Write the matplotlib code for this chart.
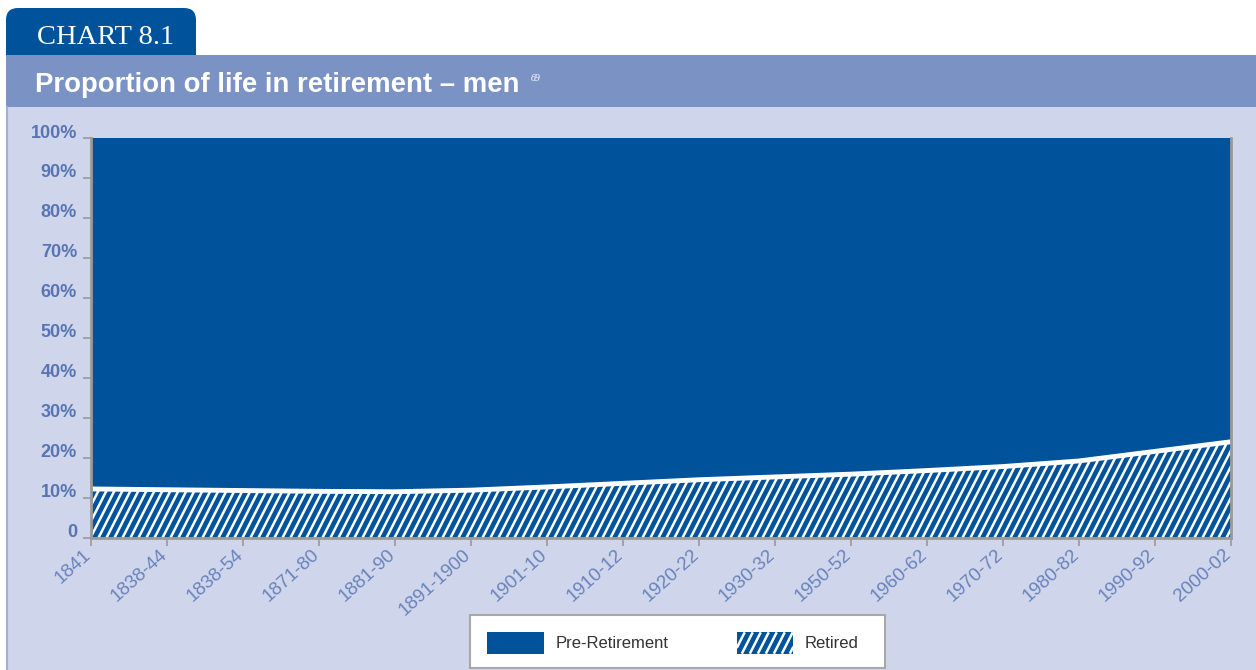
"""
Chart 8.1 - proportion of life in retirement, men.

Stacked area: retired share (striped) under pre-retirement share (solid).
"""

import math

import matplotlib
matplotlib.use("Agg")
import matplotlib.pyplot as plt
import matplotlib.patches as patches
from matplotlib.collections import LineCollection
from matplotlib.lines import Line2D
from matplotlib.transforms import ScaledTranslation, IdentityTransform

# ---- data (percent of adult life) ----
periods = ["1841", "1838-44", "1838-54", "1871-80", "1881-90", "1891-1900",
           "1901-10", "1910-12", "1920-22", "1930-32", "1950-52", "1960-62",
           "1970-72", "1980-82", "1990-92", "2000-02"]
retired = [12.2, 12.0, 11.8, 11.6, 11.5, 11.9, 12.7, 13.6,
           14.5, 15.2, 15.9, 16.8, 17.8, 19.2, 21.6, 24.0]
pre_retirement = [87.8, 88.0, 88.2, 88.4, 88.5, 88.1, 87.3, 86.4,
                  85.5, 84.8, 84.1, 83.2, 82.2, 80.8, 78.4, 76.0]
y_ticks = [0, 10, 20, 30, 40, 50, 60, 70, 80, 90, 100]
y_labels = ["0", "10%", "20%", "30%", "40%", "50%", "60%", "70%", "80%", "90%", "100%"]

# ---- style ----
W, H = 1256, 670
BLUE = "#00529b"
BAND = "#7a92c4"
PANEL = "#cfd5ea"
YLAB = "#5874b2"
XLAB = "#6883bd"
GREY = "#9a9a9a"
STRIPE_PERIOD = 8.0          # px, horizontal distance between stripes
STRIPE_COT = 1 / math.tan(math.radians(63))
STRIPE_LW = 1.8

plt.rcParams["font.family"] = ["Liberation Sans", "DejaVu Sans"]


def stripe_segments(x0, x1, y0, y1, period, cot):
    """Parallel '/' stripes covering the box, clipped to it."""
    segs = []
    c = x0 - (y1 - y0) * cot
    while c < x1:
        # line: x = c + (y - y0) * cot
        ya = max(y0, y0 + (x0 - c) / cot)
        yb = min(y1, y0 + (x1 - c) / cot)
        if yb > ya:
            segs.append([(c + (ya - y0) * cot, ya), (c + (yb - y0) * cot, yb)])
        c += period
    return segs


class StripedHandler:
    """Legend handle: blue box with white diagonal stripes."""

    def legend_artist(self, legend, orig_handle, fontsize, handlebox):
        x0, y0 = handlebox.xdescent, handlebox.ydescent
        w, h = handlebox.width, handlebox.height
        rect = patches.Rectangle((-x0, -y0), w, h, facecolor=BLUE, edgecolor="none",
                                 transform=handlebox.get_transform())
        handlebox.add_artist(rect)
        period = STRIPE_PERIOD * 0.72   # px -> pt
        for seg in stripe_segments(-x0, -x0 + w, -y0, -y0 + h, period, STRIPE_COT):
            (xa, ya), (xb, yb) = seg
            handlebox.add_artist(Line2D([xa, xb], [ya, yb], color="white", lw=STRIPE_LW,
                                        solid_capstyle="butt",
                                        transform=handlebox.get_transform()))
        return rect


fig = plt.figure(figsize=(W / 100, H / 100), dpi=100)
fig.patch.set_facecolor("white")

# chrome layer in pixel coordinates (y down)
bg = fig.add_axes([0, 0, 1, 1], zorder=0)
bg.set_xlim(0, W)
bg.set_ylim(H, 0)
bg.axis("off")

tab = patches.FancyBboxPatch((6, 8), 190, 70, boxstyle="round,pad=0,rounding_size=12",
                             facecolor=BLUE, edgecolor="none")
bg.add_patch(tab)
bg.add_patch(patches.Rectangle((6, 55), W - 6, 52, facecolor=BAND, edgecolor="none"))
bg.add_patch(patches.Rectangle((6, 107), W - 6, H - 107, facecolor=PANEL, edgecolor="none"))
bg.plot([7, 7], [107, H], color="#9fb0d8", lw=1.5)
bg.text(37, 44, "CHART 8.1", family="Liberation Serif", color="white",
        fontsize=20.5, va="baseline")
bg.text(35, 92, "Proportion of life in retirement \u2013 men", color="white",
        fontsize=19.8, fontweight="bold", va="baseline")
bg.text(531, 81, "69", family="Liberation Serif", style="italic", color="white",
        fontsize=7, va="baseline")

# legend frame
bg.add_patch(patches.Rectangle((470, 615), 415, 53, facecolor="white",
                               edgecolor="#a8a8a8", lw=1.5))

# ---- main plot ----
ax = fig.add_axes([91 / W, (H - 537.7) / H, (1231 - 91) / W, (537.7 - 138) / H], zorder=1)
ax.set_facecolor("none")
x = list(range(len(periods)))
total = [r + p for r, p in zip(retired, pre_retirement)]

pre = ax.fill_between(x, retired, total, facecolor=BLUE, edgecolor="none", lw=0,
                      label="Pre-Retirement")
ret = ax.fill_between(x, 0, retired, facecolor=BLUE, edgecolor="none", lw=0,
                      label="Retired")

# white stripes (display pixels), clipped to the retired area
stripes = LineCollection(stripe_segments(40, 1260, 100, 300, STRIPE_PERIOD, STRIPE_COT),
                         colors="white", linewidths=STRIPE_LW, capstyle="butt",
                         transform=IdentityTransform())
ax.add_collection(stripes, autolim=False)
stripes.set_clip_path(ret.get_paths()[0], ret.get_transform())

ax.plot(x, retired, color="white", lw=3.5, solid_capstyle="butt")

ax.set_xlim(0, len(periods) - 1)
ax.set_ylim(0, 100)

ax.spines["top"].set_visible(False)
for side in ("left", "bottom", "right"):
    ax.spines[side].set_color(GREY)
    ax.spines[side].set_linewidth(2)

ax.set_yticks(y_ticks)
ax.set_yticklabels(y_labels)
ax.tick_params(axis="y", length=6, width=1.2, color=GREY, pad=4,
               labelsize=13, labelcolor=YLAB)
for lab in ax.get_yticklabels():
    lab.set_fontweight("bold")
    lab.set_transform(lab.get_transform() + ScaledTranslation(0, 0.07, fig.dpi_scale_trans))

ax.set_xticks(x)
ax.set_xticklabels(periods, rotation=42, ha="right", va="top", rotation_mode="anchor")
ax.tick_params(axis="x", length=6, width=1.2, color=GREY, pad=0,
               labelsize=13.5, labelcolor=XLAB)
for lab in ax.get_xticklabels():
    lab.set_transform(lab.get_transform() + ScaledTranslation(-0.08, 0, fig.dpi_scale_trans))

fig.legend(handles=[pre, ret], handler_map={ret: StripedHandler()}, loc="center",
           bbox_to_anchor=(673 / W, 1 - 643 / H),
           ncol=2, frameon=False, fontsize=12, handlelength=3.4, handleheight=1.6,
           handletextpad=0.7, columnspacing=4.1, labelcolor="#333333")

fig.savefig("out.png", dpi=100, facecolor=fig.get_facecolor())
